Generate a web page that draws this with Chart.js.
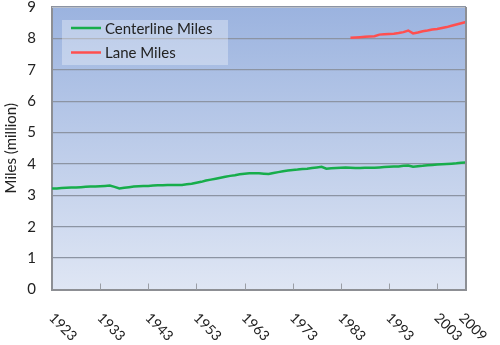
<!DOCTYPE html>
<html>
<head>
<meta charset="utf-8">
<script src="https://cdn.jsdelivr.net/npm/chart.js@4.4.1/dist/chart.umd.min.js"></script>
<style>
  html, body { margin: 0; padding: 0; background: #ffffff; }
  #wrap { position: relative; width: 500px; height: 345px; }
</style>
</head>
<body>
<div id="wrap"><canvas id="c" width="500" height="345"></canvas></div>
<script>
// ---- data ----
const years = [
  1923,1924,1925,1926,1927,1928,1929,1930,1931,1932,
  1933,1934,1935,1936,1937,1938,1939,1940,1941,1942,
  1943,1944,1945,1946,1947,1948,1949,1950,1951,1952,
  1953,1954,1955,1956,1957,1958,1959,1960,1961,1962,
  1963,1964,1965,1966,1967,1968,1969,1970,1971,1972,
  1973,1974,1975,1976,1977,1978,1979,1980,1981,1982,
  1983,1984,1985,1986,1987,1988,1989,1990,1991,1992,
  1993,1994,1995,1996,1997,1998,1999,2000,2001,2002,
  2003,2004,2005,2006,2007,2008,2009
];
const centerlineMiles = [
  3.22,3.22,3.23,3.24,3.25,3.25,3.26,3.27,3.28,3.28,
  3.29,3.30,3.31,3.27,3.22,3.24,3.26,3.28,3.29,3.30,
  3.30,3.31,3.32,3.32,3.33,3.33,3.33,3.33,3.35,3.37,
  3.40,3.43,3.47,3.50,3.53,3.56,3.59,3.62,3.64,3.67,
  3.69,3.70,3.70,3.70,3.69,3.68,3.71,3.74,3.77,3.79,
  3.81,3.82,3.84,3.85,3.87,3.89,3.91,3.85,3.86,3.87,
  3.88,3.89,3.88,3.87,3.87,3.88,3.88,3.88,3.89,3.90,
  3.91,3.92,3.92,3.94,3.95,3.91,3.93,3.94,3.96,3.97,
  3.98,3.99,4.00,4.01,4.02,4.04,4.05
];
const laneMilesStart = 1985;
const laneMilesValues = [
  8.02,8.03,8.04,8.05,8.06,8.07,8.12,8.13,8.14,8.15,
  8.17,8.20,8.25,8.16,8.19,8.23,8.25,8.28,8.30,8.33,
  8.36,8.40,8.44,8.48,8.52
];
const xTickYears = [1923,1933,1943,1953,1963,1973,1983,1993,2003,2009];
const yTicks = [0,1,2,3,4,5,6,7,8,9];
const seriesNames = ['Centerline Miles', 'Lane Miles'];
const seriesColors = ['#17ad4b', '#ff4f4f'];

// lane miles aligned to the year categories
const laneMiles = years.map(y => {
  const i = y - laneMilesStart;
  return (i >= 0 && i < laneMilesValues.length) ? laneMilesValues[i] : null;
});

const FONT = 'Lato, "Open Sans", sans-serif';

const decorPlugin = {
  id: 'decor',
  beforeDraw(chart) {
    const { ctx, chartArea: a } = chart;
    ctx.save();
    const g = ctx.createLinearGradient(0, a.top, 0, a.bottom);
    g.addColorStop(0, '#9bb3df');
    g.addColorStop(1, '#dfe6f4');
    ctx.fillStyle = g;
    ctx.fillRect(a.left, a.top, a.right - a.left, a.bottom - a.top);
    ctx.restore();
  },
  afterDatasetsDraw(chart) {
    const { ctx, chartArea: a, scales } = chart;
    const xs = scales.x;
    ctx.save();
    // top and right borders
    ctx.strokeStyle = '#b9bfca';
    ctx.lineWidth = 1;
    ctx.beginPath();
    ctx.moveTo(a.left, a.top + 0.5);
    ctx.lineTo(a.right, a.top + 0.5);
    ctx.stroke();
    ctx.strokeStyle = '#8d8f94';
    ctx.lineWidth = 2;
    ctx.beginPath();
    ctx.moveTo(a.right, a.top);
    ctx.lineTo(a.right, a.bottom);
    ctx.stroke();
    // x tick marks (inside, pointing up)
    ctx.strokeStyle = '#9a9ea6';
    ctx.lineWidth = 1;
    xTickYears.forEach(y => {
      if (y === years[0] || y === years[years.length - 1]) return;
      const px = Math.round(xs.getPixelForValue(years.indexOf(y))) + 0.5;
      ctx.beginPath();
      ctx.moveTo(px, a.bottom);
      ctx.lineTo(px, a.bottom - 6);
      ctx.stroke();
    });
    // rotated x labels (clockwise 45deg)
    ctx.fillStyle = '#222';
    ctx.font = '14px ' + FONT;
    ctx.textAlign = 'left';
    ctx.textBaseline = 'middle';
    xTickYears.forEach(y => {
      let px = xs.getPixelForValue(years.indexOf(y));
      if (y === years[years.length - 1]) px -= 4;
      ctx.save();
      ctx.translate(px - 0.5, a.bottom + 26);
      ctx.rotate(Math.PI / 4);
      ctx.fillText(String(y), 0, 0);
      ctx.restore();
    });
    // legend box
    ctx.fillStyle = 'rgba(255,255,255,0.32)';
    ctx.fillRect(62, 20, 166, 45);
    ctx.font = '15px ' + FONT;
    ctx.textBaseline = 'middle';
    seriesNames.forEach((name, i) => {
      const ly = 28 + i * 24.5;
      ctx.strokeStyle = seriesColors[i];
      ctx.lineWidth = 2.5;
      ctx.beginPath();
      ctx.moveTo(71, ly);
      ctx.lineTo(101, ly);
      ctx.stroke();
      ctx.fillStyle = '#222';
      ctx.fillText(name, 105, ly + 1);
    });
    ctx.restore();
  }
};

new Chart(document.getElementById('c'), {
  type: 'line',
  data: {
    labels: years,
    datasets: [
      {
        label: seriesNames[0],
        data: centerlineMiles,
        borderColor: seriesColors[0],
        borderWidth: 2.5,
        pointRadius: 0,
        tension: 0,
        fill: false
      },
      {
        label: seriesNames[1],
        data: laneMiles,
        borderColor: seriesColors[1],
        borderWidth: 2.5,
        pointRadius: 0,
        tension: 0,
        spanGaps: false,
        fill: false
      }
    ]
  },
  options: {
    responsive: false,
    animation: false,
    events: [],
    layout: { padding: { top: 7, right: 34, left: 0, bottom: 0 } },
    plugins: {
      legend: { display: false },
      tooltip: { enabled: false },
      title: { display: false }
    },
    scales: {
      x: {
        type: 'category',
        offset: false,
        ticks: { display: false },
        grid: { display: false, drawTicks: false },
        border: { display: true, color: '#8d8f94', width: 2 },
        afterFit(s) { s.height = 55.5; s.paddingLeft = 0; s.paddingRight = 0; }
      },
      y: {
        min: 0,
        max: 9,
        afterBuildTicks(s) { s.ticks = yTicks.map(v => ({ value: v })); },
        ticks: {
          padding: 16,
          color: '#222',
          font: { family: FONT, size: 15 }
        },
        grid: { color: '#8c94a3', lineWidth: 1.3, drawTicks: false },
        border: { display: true, color: '#8d8f94', width: 2 },
        title: {
          display: true,
          text: 'Miles (million)',
          color: '#222',
          font: { family: FONT, size: 15 },
          padding: { top: 2, bottom: 0 }
        },
        afterFit(s) { s.width = 52; s.paddingTop = 0; s.paddingBottom = 0; }
      }
    }
  },
  plugins: [decorPlugin]
});
</script>
</body>
</html>
